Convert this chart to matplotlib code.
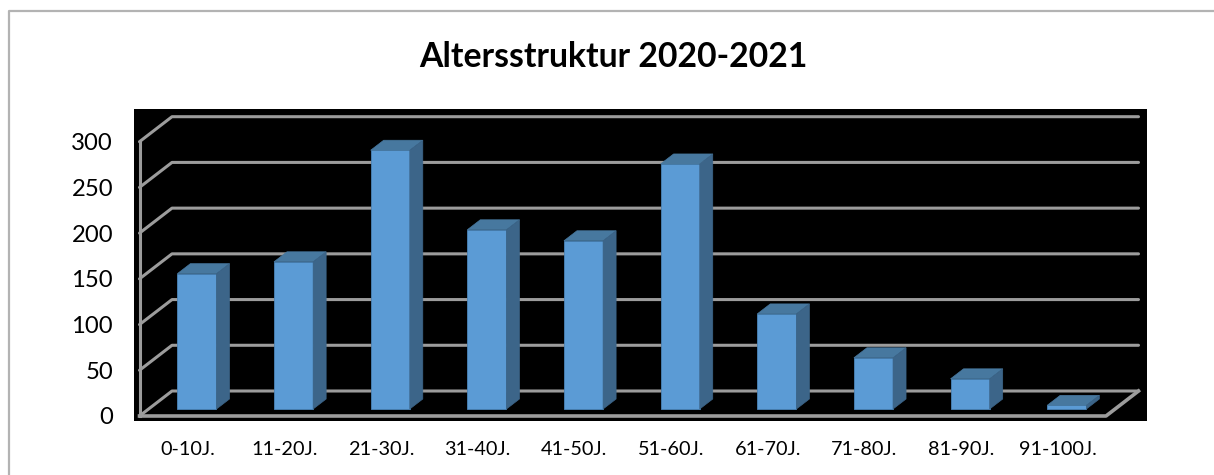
import matplotlib
matplotlib.use("Agg")
import matplotlib.pyplot as plt
from matplotlib.patches import Polygon, Rectangle

# values
categories = ['0-10J.', '11-20J.', '21-30J.', '31-40J.', '41-50J.',
              '51-60J.', '61-70J.', '71-80J.', '81-90J.', '91-100J.']
values = [148, 161, 283, 196, 184, 268, 104, 56, 33, 4]
yticks = [0, 50, 100, 150, 200, 250, 300]

W, H = 1214, 475
plt.rcParams['font.family'] = ['Lato', 'DejaVu Sans']

fig = plt.figure(figsize=(W / 100, H / 100), dpi=100)

# grey frame and black plot area
fig.add_artist(plt.Line2D([9 / W, 9 / W, 1], [0, 1 - 11 / H, 1 - 11 / H],
                          color='#b3b3b3', lw=1.6))
fig.add_artist(Rectangle((134 / W, 1 - 421 / H), 1013 / W, 312 / H,
                         transform=fig.transFigure, color='black', lw=0, zorder=-1))
fig.text(613.5 / W, 1 - 57 / H, 'Altersstruktur 2020-2021', fontsize=24.3,
         fontweight='bold', ha='center', va='center', color='black')

# axes = the front plane of the 3d box
ax = fig.add_axes([139.5 / W, 1 - 416 / H, 966.5 / W, 274.3 / H])
ax.set_xlim(0, len(categories))
ax.set_ylim(0, 300)
ax.patch.set_visible(False)
for s in ax.spines.values():
    s.set_visible(False)

# depth of the box in data units
dx = 32.5 / 96.65
dy = 25 / 0.9143
grid = '#9c9c9c'

for t in yticks:
    ax.plot([0, dx, len(categories) + dx], [t, t + dy, t + dy], color=grid,
            lw=2.2, clip_on=False, solid_capstyle='round', zorder=1)
ax.plot([0, 0], [0, 300], color=grid, lw=2.2, clip_on=False, zorder=1)
ax.plot([0, len(categories), len(categories) + dx], [0, 0, dy], color=grid,
        lw=2.6, clip_on=False, zorder=1)

# bars sit a bit inside the floor
bw = 0.405
start = 0.28
depth = 0.4
x0 = dx * start
y0 = dy * start
ddx = dx * depth
ddy = dy * depth
front = '#5b9bd5'
top = '#47789f'
side = '#3c6589'
for i, v in enumerate(values):
    left = i + 0.5 - bw / 2 + x0
    ax.bar(left, v, bw, bottom=y0, align='edge', color=front, edgecolor='#4a84b8',
           lw=0.6, clip_on=False, zorder=3)
    right = left + bw
    up = y0 + v
    ax.add_patch(Polygon([(left, up), (right, up), (right + ddx, up + ddy), (left + ddx, up + ddy)],
                         facecolor=top, edgecolor=top, lw=0.5, clip_on=False, zorder=3))
    ax.add_patch(Polygon([(right, y0), (right + ddx, y0 + ddy), (right + ddx, up + ddy), (right, up)],
                         facecolor=side, edgecolor=side, lw=0.5, clip_on=False, zorder=3))

ax.set_yticks(yticks)
ax.set_xticks([i + 0.5 for i in range(len(categories))])
ax.set_xticklabels(categories, fontsize=14.3)
ax.tick_params(axis='both', length=0)
ax.tick_params(axis='y', labelsize=17.2, pad=19)
ax.tick_params(axis='x', pad=18)

fig.savefig('out.png', dpi=100)
